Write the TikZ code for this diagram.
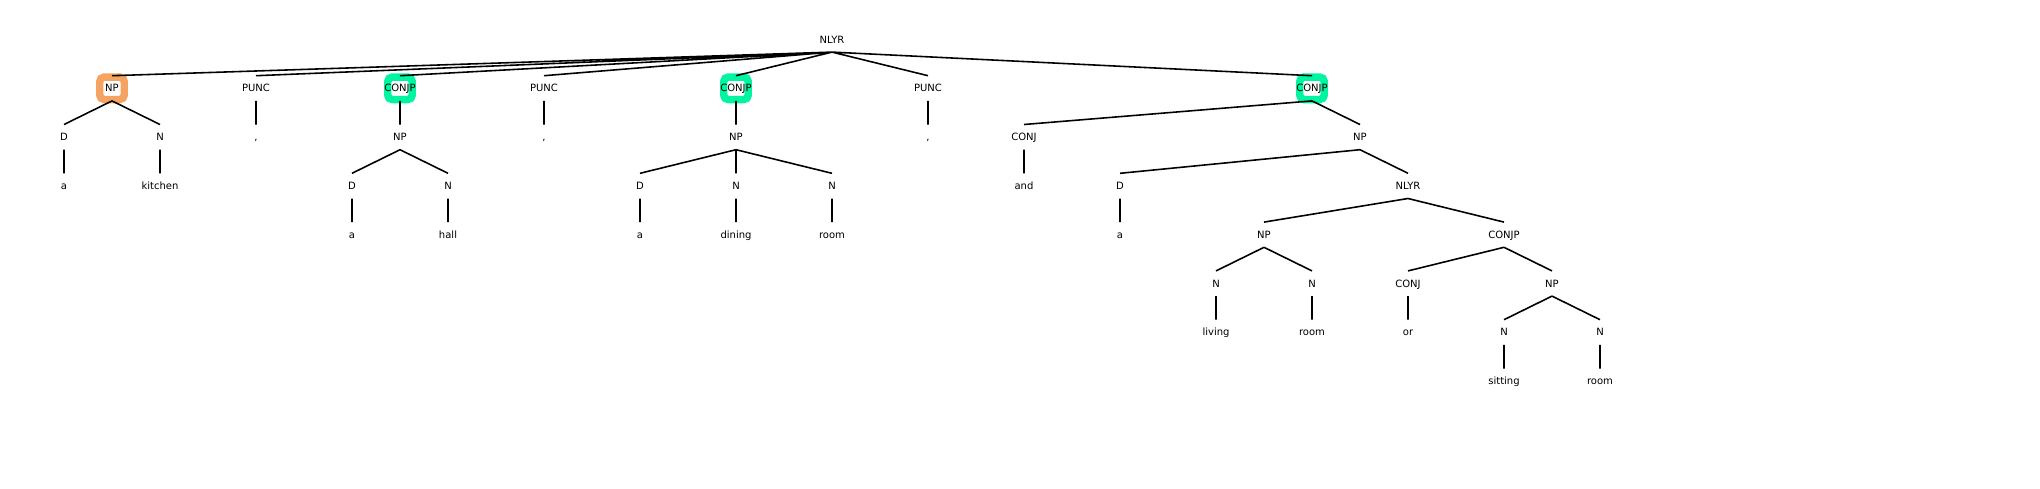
\documentclass[tikz,border=0pt]{standalone}
\usepackage{fontspec}
\setmainfont{DejaVu Sans}
\definecolor{hlorange}{RGB}{244,164,96}
\definecolor{hlgreen}{RGB}{0,245,160}
\begin{document}
\begin{tikzpicture}[x=0.02cm,y=-0.02cm]
\useasboundingbox (0,0) rectangle (2040,488);
\tikzstyle{every node}=[font=\fontsize{5.7}{6.8}\selectfont,inner sep=0pt,text height=4.15pt,text depth=0pt,minimum height=0.49cm];
\tikzstyle{hlbox}=[draw=#1,fill=white,line width=4.25pt,rounded corners=0.09cm,minimum width=0.49cm,minimum height=0.45cm];
% highlights first, so the edges run over them
\node[hlbox=hlorange] at (112,88.3) {};
\node[hlbox=hlgreen] at (400,88.3) {};
\node[hlbox=hlgreen] at (736,88.3) {};
\node[hlbox=hlgreen] at (1312,88.3) {};
% level 0 and 1
\node (root) at (832,39.5) {NLYR};
\node (np1) at (112,88.3) {NP};
\node (p1) at (256,88.3) {PUNC};
\node (cp1) at (400,88.3) {CONJP};
\node (p2) at (544,88.3) {PUNC};
\node (cp2) at (736,88.3) {CONJP};
\node (p3) at (928,88.3) {PUNC};
\node (cp3) at (1312,88.3) {CONJP};
% a kitchen
\node (d1) at (64,137.1) {D};
\node (n1) at (160,137.1) {N};
\node (w1) at (64,185.9) {a};
\node (w2) at (160,185.9) {kitchen};
\node (c1) at (256,137.1) {,};
% a hall
\node (np2) at (400,137.1) {NP};
\node (d2) at (352,185.9) {D};
\node (n2) at (448,185.9) {N};
\node (w3) at (352,234.7) {a};
\node (w4) at (448,234.7) {hall};
\node (c2) at (544,137.1) {,};
% a dining room
\node (np3) at (736,137.1) {NP};
\node (d3) at (640,185.9) {D};
\node (n3) at (736,185.9) {N};
\node (n4) at (832,185.9) {N};
\node (w5) at (640,234.7) {a};
\node (w6) at (736,234.7) {dining};
\node (w7) at (832,234.7) {room};
\node (c3) at (928,137.1) {,};
% and a living room or sitting room
\node (cj1) at (1024,137.1) {CONJ};
\node (np4) at (1360,137.1) {NP};
\node (w8) at (1024,185.9) {and};
\node (d4) at (1120,185.9) {D};
\node (nl2) at (1408,185.9) {NLYR};
\node (w9) at (1120,234.7) {a};
\node (np5) at (1264,234.7) {NP};
\node (cp4) at (1504,234.7) {CONJP};
\node (n5) at (1216,283.5) {N};
\node (n6) at (1312,283.5) {N};
\node (cj2) at (1408,283.5) {CONJ};
\node (np6) at (1552,283.5) {NP};
\node (w10) at (1216,332.3) {living};
\node (w11) at (1312,332.3) {room};
\node (w12) at (1408,332.3) {or};
\node (n7) at (1504,332.3) {N};
\node (n8) at (1600,332.3) {N};
\node (w13) at (1504,381.1) {sitting};
\node (w14) at (1600,381.1) {room};
\draw[line width=0.9pt]
(root.south) -- (np1.north) (root.south) -- (p1.north) (root.south) -- (cp1.north)
(root.south) -- (p2.north) (root.south) -- (cp2.north) (root.south) -- (p3.north)
(root.south) -- (cp3.north)
(np1.south) -- (d1.north) (np1.south) -- (n1.north)
(d1.south) -- (w1.north) (n1.south) -- (w2.north)
(p1.south) -- (c1.north)
(cp1.south) -- (np2.north)
(np2.south) -- (d2.north) (np2.south) -- (n2.north)
(d2.south) -- (w3.north) (n2.south) -- (w4.north)
(p2.south) -- (c2.north)
(cp2.south) -- (np3.north)
(np3.south) -- (d3.north) (np3.south) -- (n3.north) (np3.south) -- (n4.north)
(d3.south) -- (w5.north) (n3.south) -- (w6.north) (n4.south) -- (w7.north)
(p3.south) -- (c3.north)
(cp3.south) -- (cj1.north) (cp3.south) -- (np4.north)
(cj1.south) -- (w8.north)
(np4.south) -- (d4.north) (np4.south) -- (nl2.north)
(d4.south) -- (w9.north)
(nl2.south) -- (np5.north) (nl2.south) -- (cp4.north)
(np5.south) -- (n5.north) (np5.south) -- (n6.north)
(n5.south) -- (w10.north) (n6.south) -- (w11.north)
(cp4.south) -- (cj2.north) (cp4.south) -- (np6.north)
(cj2.south) -- (w12.north)
(np6.south) -- (n7.north) (np6.south) -- (n8.north)
(n7.south) -- (w13.north) (n8.south) -- (w14.north)
;
\end{tikzpicture}
\end{document}
